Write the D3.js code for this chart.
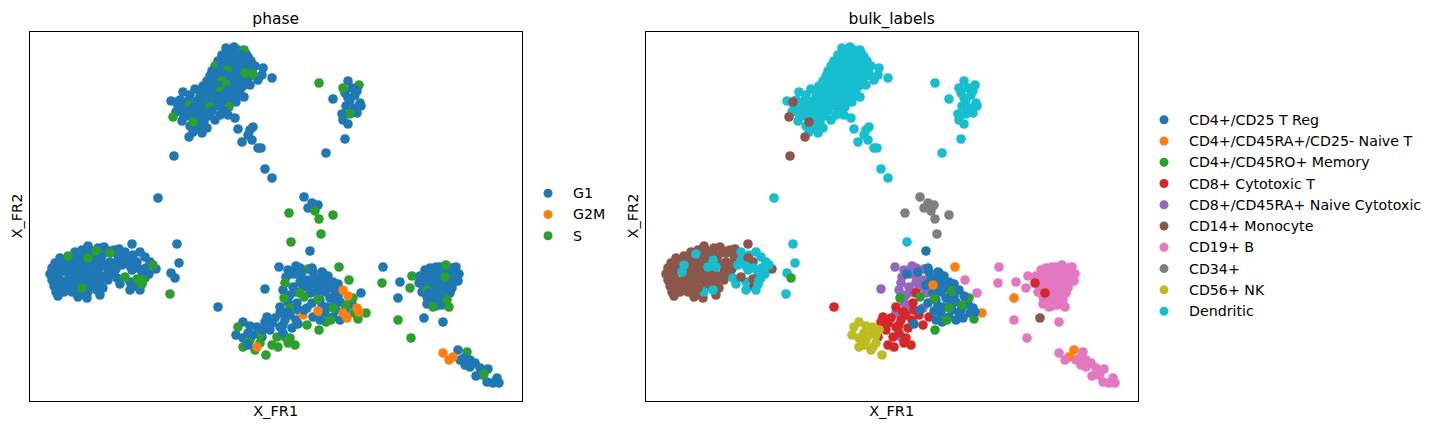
<!DOCTYPE html>
<html><head><meta charset="utf-8">
<script src="https://cdn.jsdelivr.net/npm/d3@7"></script>
<style>
body{margin:0;background:#fff}
text{font-family:"DejaVu Sans",sans-serif;fill:#000}
</style>
</head><body>
<svg id="chart" width="1435" height="430"></svg>
<script>
const phaseCategories = ["G1", "G2M", "S"];
const phaseColors = ["#1f77b4", "#ff7f0e", "#2ca02c"];
const bulkCategories = ["CD4+/CD25 T Reg", "CD4+/CD45RA+/CD25- Naive T", "CD4+/CD45RO+ Memory",
  "CD8+ Cytotoxic T", "CD8+/CD45RA+ Naive Cytotoxic", "CD14+ Monocyte", "CD19+ B", "CD34+",
  "CD56+ NK", "Dendritic"];
const bulkColors = ["#1f77b4", "#ff7f0e", "#2ca02c", "#d62728", "#9467bd", "#8c564b",
  "#e377c2", "#7f7f7f", "#bcbd22", "#17becf"];

// each cell: [X_FR1, X_FR2, phase index, bulk_labels index]
const dendriticTop = [
  [196,352,0,9],[206,347,0,9],[216,346,0,9],[200,342,0,9],[210,336,0,9],[220,332,0,9],[194,337,0,9],[202,332,0,9],
  [186,326,0,9],[194,322,0,9],[210,322,0,9],[218,316,0,9],[202,317,0,9],[186,314,0,9],[178,312,0,9],[195,308,0,9],
  [210,310,0,9],[188,300,0,9],[196,296,0,9],[206,298,0,9],[180,288,0,9],[170,291,0,9],[158,284,0,9],[146,288,0,9],
  [190,285,0,9],[160,305,0,9],[228,320,0,9],
  [204,353,0,9],[198,349,0,9],[208,350,0,9],[214,350,2,9],[192,345,0,9],[202,344,0,9],[211,345,0,9],[218,343,0,9],
  [188,339,0,9],[196,340,0,9],[204,339,0,9],[212,340,0,9],[221,339,0,9],[185,334,2,9],[192,334,0,9],[200,335,0,9],
  [208,334,0,9],[216,334,0,9],[225,334,0,9],[233,332,0,9],[182,329,0,9],[190,329,0,9],[198,330,2,9],[206,329,0,9],
  [214,329,0,9],[222,329,0,9],[180,324,0,9],[188,324,0,9],[196,325,0,9],[204,324,0,9],[212,324,0,9],[220,324,0,9],
  [232,325,0,9],[242,322,0,9],[177,319,0,9],[184,320,0,9],[192,319,2,9],[200,320,0,9],[208,319,0,9],[216,320,0,9],
  [223,326,2,9],[215,327,2,9],[173,314,0,9],[181,314,0,9],[189,314,0,9],[197,315,2,9],[205,314,0,9],[213,314,0,9],
  [220,315,0,9],[153,308,0,9],[165,311,0,9],[173,312,0,9],[174,309,0,9],[182,310,0,9],[190,309,2,9],[198,310,0,9],
  [206,309,0,9],[214,303,0,9],[170,304,0,9],[178,304,0,9],[186,304,0,9],[194,305,0,9],[202,304,0,9],[210,305,0,9],
  [141,299,0,9],[150,300,0,9],[158,299,0,9],[167,299,0,9],[175,299,0,9],[183,299,0,9],[192,300,0,9],[200,299,0,9],
  [148,294,0,9],[156,294,0,9],[160,295,2,9],[164,294,0,9],[172,294,0,9],[180,293,2,9],[188,294,0,9],[199,293,2,9],
  [150,289,0,9],[158,289,0,9],[166,289,0,9],[174,288,0,9],[182,289,0,9],[194,289,0,9],[154,284,0,9],[162,284,0,9],
  [170,284,0,9],[178,284,0,9],[185,280,0,9],[198,285,0,9],[205,282,0,9],[152,279,0,9],[166,279,0,9],[174,278,0,9],
  [160,274,0,9],[167,272,0,9],[173,275,0,9],[177,272,0,9],[172,267,0,9],[163,268,0,9],
  [159,263,0,5],[144,244,0,5],[147,298,0,5],[143,283,2,5],[163,278,2,5],
  [208,271,0,9],[220,270,0,9],[223,273,0,9],[218,265,0,9],[222,260,0,9],[212,258,0,9],[228,252,0,9],[231,252,0,9],
  [235,231,0,9],[242,222,0,9]
];
const dendriticSmall = [
  [289,317,2,9],[303,301,0,9],[318,319,0,9],[329,315,2,9],[322,312,0,9],[315,307,0,9],[325,305,0,9],[320,300,0,9],
  [330,297,0,9],[331,294,0,9],[316,294,0,9],[324,292,0,9],[312,286,0,9],[327,287,0,9],[313,280,0,9],[318,276,0,9],
  [315,261,0,9],[296,247,0,9],[327,309,0,9],[318,302,0,9],[313,312,2,9],[320,286,2,9]
];
const monocyteCells = [
  [58,154,0,5],[68,152,0,5],[74,153,0,5],[45,148,0,5],[52,150,0,5],[60,150,0,5],[78,149,0,5],[84,150,0,5],
  [30,142,0,5],[46,144,0,5],[54,143,0,5],[64,144,0,5],[72,144,0,5],[88,144,0,5],[25,137,0,5],[32,138,0,5],
  [40,138,0,5],[48,137,0,5],[56,138,0,5],[64,138,0,5],[72,137,0,5],[80,138,0,5],[88,138,0,5],[22,132,0,5],
  [30,132,0,5],[38,132,0,5],[46,132,0,5],[54,132,0,5],[78,132,0,5],[86,131,0,5],[20,126,0,5],[28,126,0,5],
  [44,126,0,5],[52,126,0,5],[60,126,0,5],[68,126,0,5],[76,125,0,5],[84,126,0,5],[22,120,0,5],[30,120,0,5],
  [38,120,0,5],[46,120,0,5],[54,120,0,5],[62,120,0,5],[70,119,0,5],[78,120,0,5],[24,114,0,5],[32,114,0,5],
  [40,114,0,5],[48,114,0,5],[60,114,0,5],[68,113,0,5],[73,112,0,5],[26,108,0,5],[34,108,0,5],[42,108,0,5],
  [50,106,0,5],[28,104,0,5],[48,103,0,5],[57,102,0,5],[70,105,0,5],
  [36,128,0,9],[38,135,0,9],[50,146,0,9],[58,108,0,9],[67,110,0,9],[62,133,0,9],[70,133,0,9],[67,140,0,9],
  [66,149,2,5],[38,144,2,5],[58,142,2,5],[80,147,2,5],[52,112,2,5],
  [113,127,0,3],[105,114,0,3],
  [89,151,0,5],[102,156,0,5],[95,148,0,9],[103,145,0,9],[110,148,0,9],[115,143,0,9],[120,138,0,9],[126,131,0,5],
  [95,140,0,9],[102,142,0,5],[107,138,0,5],[92,135,0,9],[100,134,0,9],[108,132,0,9],[116,132,0,9],[102,130,0,9],
  [112,128,0,9],[119,126,0,9],[115,122,0,9],[87,122,0,9],[100,118,0,9],[112,117,0,9],[100,110,0,9],[110,110,0,9],
  [90,116,0,9],
  [123,135,2,9],[95,123,2,5],[107,121,2,5],[113,120,2,9],[112,116,2,9],
  [128,202,0,9],[147,156,0,9],[149,137,0,9],[141,127,0,9],[145,122,0,2],[140,106,2,9],[188,93,0,3]
];
const progenitorCells = [
  [274,203,0,7],[282,197,0,7],[278,192,0,7],[288,195,0,7],[285,189,2,7],[259,187,2,7],[303,185,2,7],[289,181,2,7],
  [291,166,2,7],[261,158,2,9],[280,149,0,0]
];
const tCells = [
  [258,130,0,4],[270,132,0,4],[253,110,0,4],[266,108,0,4],[273,113,0,4],[258,98,0,4],
  [249,133,0,4],[266,134,0,4],[278,131,2,4],[235,111,0,4],[256,123,0,4],[263,113,0,4],[270,118,0,4],[277,120,0,4],
  [255,117,2,4],[260,105,0,4],[280,107,0,4],[277,92,0,4],[260,92,2,4],[250,87,0,4],[265,126,0,4],[255,63,2,4],
  [270,125,0,4],
  [268,90,0,3],[253,75,0,3],[265,55,2,3],[242,55,2,3],[257,88,0,3],
  [250,93,0,3],[267,97,0,3],[270,107,2,3],[283,83,0,3],[277,75,2,3],[237,83,0,3],[242,77,0,3],[250,73,0,3],
  [247,63,2,3],[258,57,2,3],[248,53,2,3],[253,67,0,3],[260,62,2,3],[245,82,0,3],[255,80,0,3],[262,72,0,3],
  [240,70,0,3],[235,78,0,3],[232,63,0,3],[260,85,0,3],[266,80,0,3],[273,85,1,3],
  [206,65,0,8],[220,74,0,8],[230,65,2,8],
  [213,78,0,8],[208,73,2,8],[218,67,0,8],[227,73,0,8],[233,70,0,8],[213,62,0,8],[220,60,2,8],[213,53,2,8],
  [225,50,2,8],[236,45,2,8],[230,57,2,8],[227,53,1,8],[223,65,0,8],[218,55,0,8],
  [283,128,0,0],[288,110,0,0],[295,116,0,0],[300,112,0,0],[308,116,0,0],[305,97,0,0],[315,90,0,0],[322,96,0,0],
  [295,87,0,0],[282,97,0,0],[308,104,0,0],[292,94,0,0],[310,80,0,0],[296,78,2,0],
  [261,126,0,0],[272,128,0,0],[293,127,2,0],[303,118,0,0],[285,122,0,0],[292,120,0,0],[298,124,0,0],[280,115,0,0],
  [287,107,0,0],[295,108,0,0],[300,102,0,0],[290,100,0,0],[310,98,0,0],[318,95,0,0],[297,93,0,0],[303,83,0,0],
  [290,80,0,0],[268,76,0,0],[324,87,2,0],[306,90,0,0],[282,132,0,0],[292,128,0,0],[274,90,0,0],[305,105,0,0],
  [254,102,2,2],[274,103,2,2],[288,101,2,2],[306,109,0,2],[323,102,2,2],[316,95,2,2],[303,92,2,2],[301,80,2,2],
  [289,70,2,2],[328,81,2,2],
  [309,133,2,1],[287,115,0,1],[336,87,2,1],[368,102,0,1],
  [313,110,1,0],[318,104,1,0],[288,89,1,0],[313,87,1,0],[317,82,1,0],[327,92,1,0],[329,88,1,0]
];
const bCells = [
  [353,133,0,6],[352,117,2,6],[319,120,2,6],[331,107,0,6],
  [370,118,0,6],[382,124,2,6],[380,112,2,6],[368,80,2,6],[381,62,2,6],[394,82,0,5],[413,78,0,6],
  [392,108,0,6],[422,112,0,6],[416,106,0,6],[406,94,0,6],
  [395,130,0,6],[400,132,0,6],[406,133,0,6],[410,133,0,6],[422,132,0,6],[426,133,0,6],[429,126,0,6],[390,124,0,6],
  [396,125,0,6],[402,126,0,6],[408,127,0,6],[414,128,0,6],[420,126,0,6],[425,124,0,6],[390,118,0,6],[397,119,0,6],
  [404,120,0,6],[411,121,0,6],[418,120,0,6],[423,117,0,6],[428,119,0,6],[394,112,0,6],[401,112,0,6],[408,113,0,6],
  [415,113,0,6],[420,107,0,6],[404,106,0,6],[411,106,0,6],[397,103,0,6],[404,100,0,6],[410,100,0,6],[397,96,0,6],
  [412,95,0,6],[416,135,2,6],[397,110,2,6],[417,100,2,6],[403,93,2,6],[419,93,2,6],[415,123,2,6],
  [389,117,0,3],[399,107,0,3],
  [437,48,2,6],[430,40,0,6],[434,42,0,6],[435,35,0,6],[440,40,0,6],[440,33,0,6],[445,37,0,6],[450,32,0,6],
  [458,31,0,6],[453,25,0,6],[446,24,0,6],[457,18,0,6],[467,22,0,6],[469,17,0,6],[463,17,0,6],[454,26,2,6],
  [428,50,0,1],[413,47,1,6],[423,43,1,1],[419,40,1,6]
];
const cells = [].concat(dendriticTop, dendriticSmall, monocyteCells, progenitorCells, tCells, bCells);

const svg = d3.select("#chart");
const W = 492.5, H = 370, TOP = 31;
const x = d3.scaleLinear().domain([-0.5, 492]).range([0, W]);
const y = d3.scaleLinear().domain([-1, 369]).range([H, 0]);

const panels = [
  {title: "phase", left: 29.5, field: 2, cats: phaseCategories, colors: phaseColors, lx: 548, ly: 193.2},
  {title: "bulk_labels", left: 645.5, field: 3, cats: bulkCategories, colors: bulkColors, lx: 1164, ly: 119.7}
];

panels.forEach((p, i) => {
  const g = svg.append("g").attr("transform", `translate(${p.left},${TOP})`);
  g.append("clipPath").attr("id", "clip" + i).append("rect").attr("width", W).attr("height", H);
  g.append("g").attr("clip-path", `url(#clip${i})`)
    .selectAll("circle").data(cells).join("circle")
    .attr("cx", d => x(d[0])).attr("cy", d => y(d[1])).attr("r", 4.8)
    .attr("fill", d => p.colors[d[p.field]]);
  g.append("rect").attr("x", 0).attr("y", 0.5).attr("width", W + 0.5).attr("height", H)
    .attr("fill", "none").attr("stroke", "#000").attr("stroke-width", 1);
  g.append("text").attr("x", W / 2).attr("y", -7).attr("text-anchor", "middle")
    .style("font-size", "15.5px").text(p.title);
  g.append("text").attr("x", W / 2).attr("y", H + 15).attr("text-anchor", "middle")
    .style("font-size", "14.5px").text("X_FR1");
  g.append("text").attr("transform", `translate(-7.5,${H / 2}) rotate(-90)`)
    .attr("text-anchor", "middle").style("font-size", "14.5px").text("X_FR2");
  const step = 21.27;
  const lg = svg.append("g");
  p.cats.forEach((c, k) => {
    lg.append("circle").attr("cx", p.lx).attr("cy", p.ly + k * step).attr("r", 4.5).attr("fill", p.colors[k]);
    lg.append("text").attr("x", p.lx + 25).attr("y", p.ly + k * step + 5).style("font-size", "14.2px").text(c);
  });
});
</script>
</body></html>
